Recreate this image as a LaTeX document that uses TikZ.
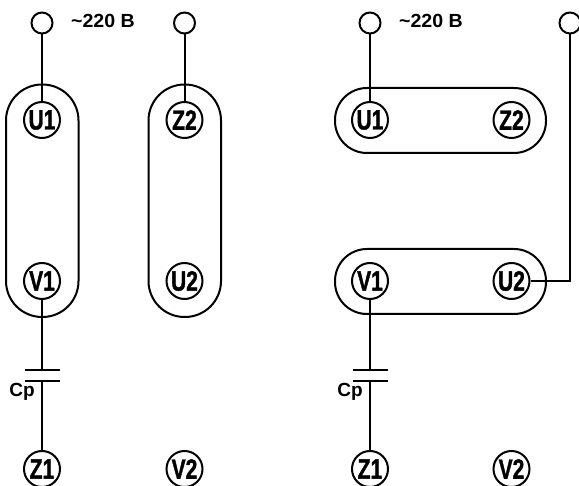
\documentclass[tikz,border=0pt]{standalone}
\usepackage{fontspec}
\setmainfont{Liberation Sans}
\newfontfamily\windingfont[FakeBold=1.5]{Liberation Sans Bold}
\begin{document}
\begin{tikzpicture}[
    x=1pt,
    y=-1pt,
    line width=2pt,
    terminal/.style={
      circle,
      draw=black,
      inner sep=0pt,
      minimum size=21pt
    },
    winding/.style={
      circle,
      draw=black,
      inner sep=0pt,
      minimum size=36pt,
      font=\windingfont\fontsize{28}{28}\selectfont
    },
    vcoil/.style={
      rectangle,
      draw=black,
      rounded corners=36pt,
      minimum width=72.5pt,
      minimum height=232.5pt
    },
    hcoil/.style={
      rectangle,
      draw=black,
      rounded corners=32pt,
      minimum width=211pt,
      minimum height=65pt
    },
    caption/.style={
      inner sep=0pt,
      font=\fontsize{19}{19}\bfseries
    },
]
\useasboundingbox (0,0) rectangle (579,486);

% left scheme
\node[vcoil] (coilA) at (42.25,200.75) {};
\node[vcoil] (coilB) at (184.75,200.75) {};

\node[terminal] (LA) at (42,23) {};
\node[terminal] (LB) at (184.5,23) {};
\node[caption] (LV) at (103,21) {\scalebox{1.03}[1]{\textasciitilde 220 В}};

\node[winding] (LU1) at (42,120) {\scalebox{.75}[1]{U1}};
\node[winding] (LZ2) at (184.5,120) {\scalebox{.75}[1]{Z2}};
\node[winding] (LV1) at (42,281) {\scalebox{.75}[1]{V1}};
\node[winding] (LU2) at (184.5,281) {\scalebox{.75}[1]{U2}};
\node[winding] (LZ1) at (42,469) {\scalebox{.75}[1]{Z1}};
\node[winding] (LV2) at (184.5,469) {\scalebox{.75}[1]{V2}};

\coordinate (LC1) at (42,370.5);
\coordinate (LC2) at (42,381);
\coordinate (LC1a) at (25,370.5);
\coordinate (LC1b) at (59.5,370.5);
\coordinate (LC2a) at (25,381);
\coordinate (LC2b) at (59.5,381);
\node[caption] (LCp) at (22,392) {Cp};

\draw (LA) -- (LU1);
\draw (LB) -- (LZ2);
\draw (LV1) -- (LC1);
\draw (LC2) -- (LZ1);
\draw (LC1a) -- (LC1b);
\draw (LC2a) -- (LC2b);

% right scheme
\node[hcoil] (coilC) at (440.5,120.5) {};
\node[hcoil] (coilD) at (440.5,281.5) {};

\node[terminal] (RA) at (370,23) {};
\node[terminal] (RB) at (570,23) {};
\node[caption] (RV) at (431,21) {\scalebox{1.03}[1]{\textasciitilde 220 В}};

\node[winding] (RU1) at (370,120) {\scalebox{.75}[1]{U1}};
\node[winding] (RZ2) at (511.5,120) {\scalebox{.75}[1]{Z2}};
\node[winding] (RV1) at (370,281) {\scalebox{.75}[1]{V1}};
\node[winding] (RU2) at (511.5,281) {\scalebox{.75}[1]{U2}};
\node[winding] (RZ1) at (370,469) {\scalebox{.75}[1]{Z1}};
\node[winding] (RV2) at (511.5,469) {\scalebox{.75}[1]{V2}};

\coordinate (RC1) at (370,370.5);
\coordinate (RC2) at (370,381);
\coordinate (RC1a) at (353,370.5);
\coordinate (RC1b) at (387.5,370.5);
\coordinate (RC2a) at (353,381);
\coordinate (RC2b) at (387.5,381);
\node[caption] (RCp) at (350,392) {Cp};

\draw (RA) -- (RU1);
\draw (RB) |- (RU2);
\draw (RV1) -- (RC1);
\draw (RC2) -- (RZ1);
\draw (RC1a) -- (RC1b);
\draw (RC2a) -- (RC2b);

\end{tikzpicture}
\end{document}
